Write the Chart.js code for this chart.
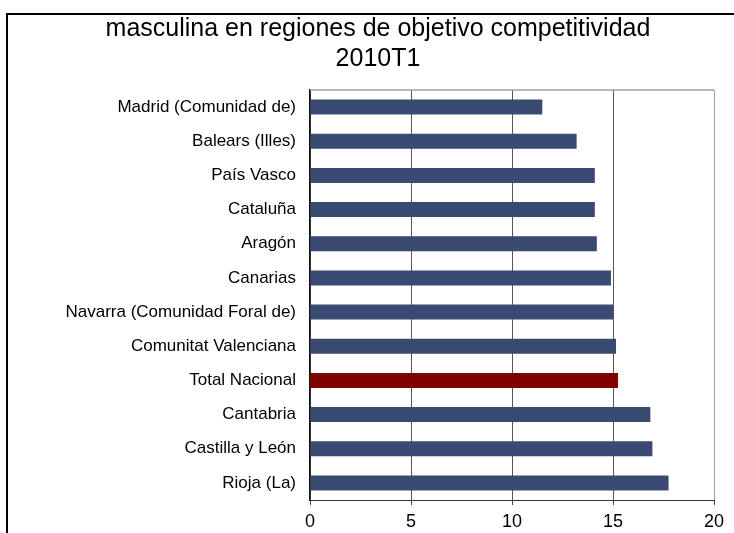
<!DOCTYPE html>
<html>
<head>
<meta charset="utf-8">
<script src="https://cdn.jsdelivr.net/npm/chart.js@4/dist/chart.umd.min.js"></script>
<style>
  html, body { margin: 0; padding: 0; background: #fff; }
  #wrap { position: relative; width: 734px; height: 533px; overflow: hidden; }
  #frame {
    position: absolute; left: 6px; top: 13px; width: 800px; height: 600px;
    border-top: 2px solid #000; border-left: 2px solid #000;
  }
  canvas { position: absolute; left: 0; top: 0; }
</style>
</head>
<body>
<div id="wrap">
  <div id="frame"></div>
  <canvas id="chart" width="734" height="533"></canvas>
</div>
<script>
// Regions, top to bottom
const regions = [
  'Madrid (Comunidad de)',
  'Balears (Illes)',
  'País Vasco',
  'Cataluña',
  'Aragón',
  'Canarias',
  'Navarra (Comunidad Foral de)',
  'Comunitat Valenciana',
  'Total Nacional',
  'Cantabria',
  'Castilla y León',
  'Rioja (La)'
];
const values = [11.5, 13.2, 14.1, 14.1, 14.2, 14.9, 15.0, 15.15, 15.25, 16.85, 16.95, 17.75];
const titleLines = ['masculina en regiones de objetivo competitividad', '2010T1'];
const xTicks = [0, 5, 10, 15, 20];

const FONT = 'Liberation Sans, Arial, sans-serif';
const NAVY = '#3b4a73';
const RED = '#800000';

// gray top edge of the plot area
const plotTop = {
  id: 'plotTop',
  beforeDatasetsDraw(chart) {
    const { ctx, chartArea: a } = chart;
    ctx.save();
    ctx.strokeStyle = '#a0a0a0';
    ctx.lineWidth = 1.5;
    ctx.beginPath();
    ctx.moveTo(a.left, a.top);
    ctx.lineTo(a.right, a.top);
    ctx.stroke();
    ctx.restore();
  }
};

new Chart(document.getElementById('chart'), {
  type: 'bar',
  data: {
    labels: regions,
    datasets: [{
      data: values,
      backgroundColor: regions.map(r => r === 'Total Nacional' ? RED : NAVY),
      borderWidth: 0,
      barPercentage: 0.44,
      categoryPercentage: 1
    }]
  },
  options: {
    indexAxis: 'y',
    responsive: false,
    animation: false,
    layout: { padding: { left: 42, right: 20, top: 0, bottom: 0 } },
    plugins: {
      legend: { display: false },
      tooltip: { enabled: false },
      title: {
        display: true,
        text: titleLines,
        color: '#000',
        font: { family: FONT, size: 25, weight: 'normal', lineHeight: 1.2 },
        padding: { top: 14, bottom: 16 }
      }
    },
    scales: {
      x: {
        min: 0,
        max: 20,
        afterBuildTicks: s => { s.ticks = xTicks.map(v => ({ value: v })); },
        afterFit: s => { s.height = 33; },
        ticks: { color: '#000', padding: 6, font: { family: FONT, size: 18 } },
        grid: {
          color: c => c.tick && c.tick.value === 20 ? '#a0a0a0' : '#555',
          tickColor: '#444',
          tickLength: 5,
          lineWidth: 1
        },
        border: { display: true, color: '#333', width: 1 }
      },
      y: {
        afterFit: s => { s.width = 268; },
        ticks: { color: '#000', padding: 14, font: { family: FONT, size: 17 } },
        grid: { display: false, drawTicks: false },
        border: { display: true, color: '#111', width: 1.5 }
      }
    }
  },
  plugins: [plotTop]
});
</script>
</body>
</html>
